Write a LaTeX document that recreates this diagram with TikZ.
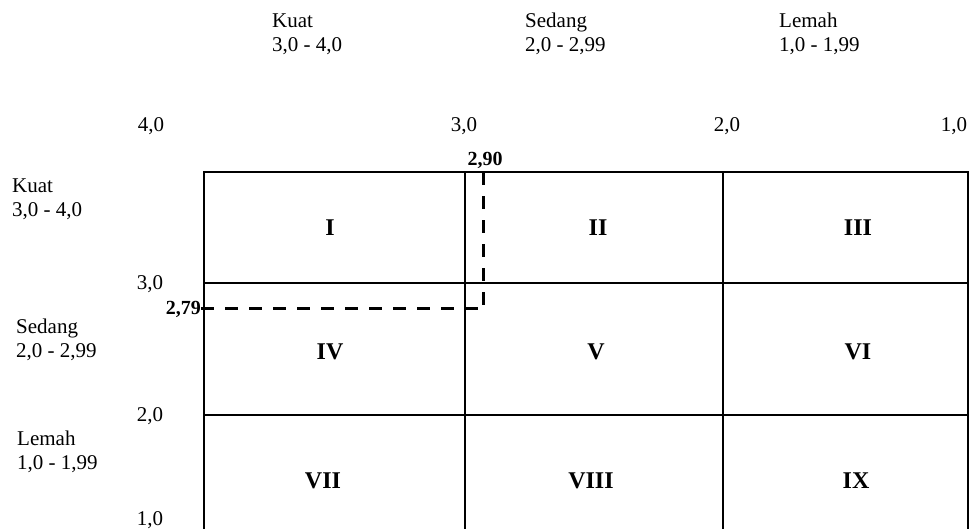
\documentclass[tikz,border=0pt]{standalone}
\usepackage{fontspec}
\setmainfont{Liberation Serif}
\begin{document}
\begin{tikzpicture}[x=1pt,y=-1pt,
  lbl/.style={inner sep=0pt, font=\fontsize{21}{24}\selectfont},
  hdr/.style={lbl, align=left, anchor=north west},
  tick/.style={lbl, anchor=base},
  zone/.style={inner sep=0pt, font=\fontsize{24}{28}\selectfont\bfseries},
  score/.style={inner sep=0pt, font=\fontsize{20}{24}\selectfont\bfseries},
  gridline/.style={line width=2pt},
  guide/.style={line width=3pt, dash pattern=on 13pt off 11pt}]
\useasboundingbox (0,0) rectangle (970,528);

% 3x3 matrix, bottom row runs off the page
\begin{scope}
  \clip (0,0) rectangle (970,528);
  \draw[gridline] (204,560) -- (204,172) -- (968,172) -- (968,560);
  \draw[gridline] (465,172) -- (465,560);
  \draw[gridline] (723,172) -- (723,560);
  \draw[gridline] (204,283) -- (968,283);
  \draw[gridline] (204,415) -- (968,415);
\end{scope}

% column headers
\node[hdr] (hk) at (272,14) {Kuat\\3,0 - 4,0};
\node[hdr] (hs) at (525,13) {Sedang\\2,0 - 2,99};
\node[hdr] (hl) at (779,13) {Lemah\\1,0 - 1,99};

% row headers
\node[hdr] (rk) at (12,179) {Kuat\\3,0 - 4,0};
\node[hdr] (rs) at (16,319) {Sedang\\2,0 - 2,99};
\node[hdr] (rl) at (17,431) {Lemah\\1,0 - 1,99};

% horizontal scale
\node[tick] (x4) at (151,131) {4,0};
\node[tick] (x3) at (464,131) {3,0};
\node[tick] (x2) at (727,131) {2,0};
\node[tick] (x1) at (954,131) {1,0};

% vertical scale
\node[tick] (y3) at (150,289) {3,0};
\node[tick] (y2) at (150,421) {2,0};
\node[tick] (y1) at (150,525) {1,0};

% cell labels
\node[zone] (c1) at (330,228) {I};
\node[zone] (c2) at (598,228) {II};
\node[zone] (c3) at (858,228) {III};
\node[zone] (c4) at (330,352) {IV};
\node[zone] (c5) at (596,352) {V};
\node[zone] (c6) at (858,352) {VI};
\node[zone] (c7) at (323,481) {VII};
\node[zone] (c8) at (591,481) {VIII};
\node[zone] (c9) at (856,481) {IX};

% position of the scores
\node[score, anchor=base] (sx) at (485,165) {2,90};
\node[score, anchor=base east] (sy) at (201,314) {2,79};
\coordinate (ptop) at (483,172);
\coordinate (pos) at (483,308);
\draw[guide] (sy.east |- pos) -- (pos);
\draw[guide] (ptop) -- (pos);
\end{tikzpicture}
\end{document}
